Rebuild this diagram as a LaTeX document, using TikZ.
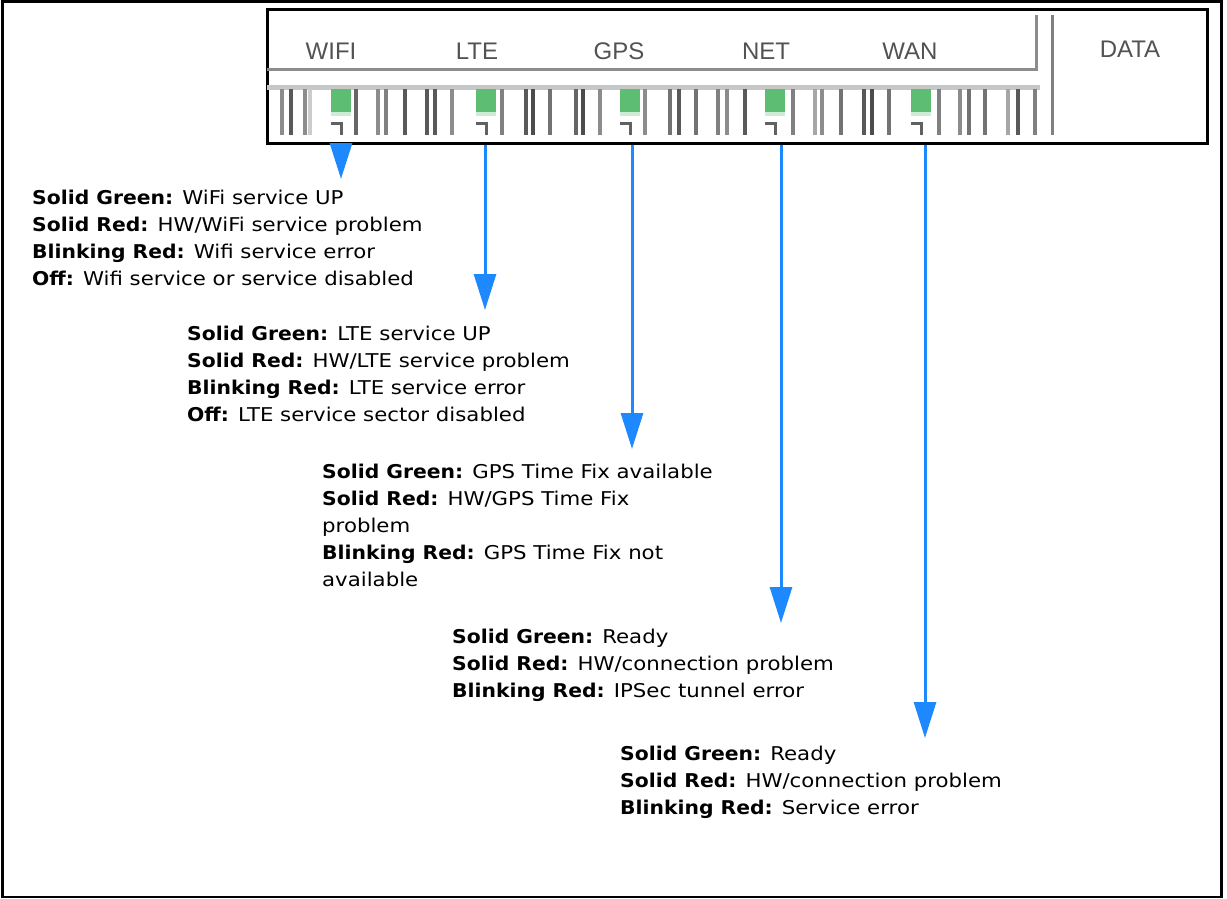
\documentclass[tikz,border=0pt]{standalone}
\usepackage{fontspec}
\setmainfont{DejaVu Sans}[FakeStretch=1.12, BoldFeatures={FakeStretch=1.07}]
\newfontfamily\panelfont{Liberation Sans}
\usetikzlibrary{arrows.meta}

\definecolor{ledblue}{RGB}{30,136,255}
\definecolor{ledgreen}{RGB}{93,190,115}

\begin{document}
\begin{tikzpicture}[x=1pt, y=-1pt,
		led/.style={rectangle, fill=ledgreen, minimum width=20pt, minimum height=23pt, inner sep=0pt},
		panel label/.style={font=\panelfont\fontsize{24}{24}\selectfont, text=black!68, inner sep=0pt},
		info/.style={anchor=north west, inner sep=0pt, align=left, font=\fontsize{19}{27}\selectfont},
		ledarrow/.style={draw=ledblue, line width=3pt, -{Triangle[length=36pt,width=22pt]}}]
		
		\useasboundingbox (0,0) rectangle (1227,899);
		\draw[line width=2.5pt] (2.5,1.5) rectangle (1221.5,897);
		
		% LED panel
		\node[draw, line width=3pt, minimum width=940.5pt, minimum height=133pt, anchor=north west] (panel) at (265.5,8.5) {};
		\fill[black!22] (267,85) rectangle (1040,90);
		\draw[black!45, line width=3pt] (267,70) -- (1036,70) -- (1036,15);
		\draw[black!50, line width=3pt] (1052,15) -- (1052,135);
		\foreach \x/\s in {282/45, 291/65, 305/45, 310/20, 356/60, 378/45, 386/50, 405/65, 427/65, 435/65,
			452/45, 502/50, 526/65, 533/70, 550/55, 576/60, 583/70, 600/45, 645/45, 670/55, 679/65,
			696/55, 718/50, 727/45, 745/65, 793/50, 815/35, 822/45, 841/55, 864/65, 872/70, 889/55,
			939/50, 960/45, 969/55, 985/55, 1008/35, 1018/65, 1035/50}
			\fill[black!\s] (\x-2,89) rectangle (\x+2,135);
		
		\node[led] (wifi) at (341,100.5) {};
		\node[led] (lte) at (486,100.5) {};
		\node[led] (gps) at (630,100.5) {};
		\node[led] (net) at (775,100.5) {};
		\node[led] (wan) at (921,100.5) {};
		\foreach \n in {wifi,lte,gps,net,wan} {
			\fill[ledgreen!30] (\n.south west) rectangle ([yshift=-4pt]\n.south east);
			\draw[black!62, line width=3pt] ([yshift=-11pt]\n.south west) -| ([xshift=11pt,yshift=-23pt]\n.south west);
		}
		
		\node[panel label] (wifilabel) at (331,51) {WIFI};
		\node[panel label] (ltelabel) at (477,51) {LTE};
		\node[panel label] (gpslabel) at (619,51) {GPS};
		\node[panel label] (netlabel) at (766,51) {NET};
		\node[panel label] (wanlabel) at (910,51) {WAN};
		\node[panel label] (datalabel) at (1130,49) {DATA};
		
		% descriptions
		\node[info] (wifiinfo) at (32,190) {\textbf{Solid Green:} WiFi service UP\\
			\textbf{Solid Red:} HW/WiFi service problem\\
			\textbf{Blinking Red:} Wifi service error\\
			\textbf{Off:} Wifi service or service disabled};
		\node[info] (lteinfo) at (187,326) {\textbf{Solid Green:} LTE service UP\\
			\textbf{Solid Red:} HW/LTE service problem\\
			\textbf{Blinking Red:} LTE service error\\
			\textbf{Off:} LTE service sector disabled};
		\node[info] (gpsinfo) at (322,464) {\textbf{Solid Green:} GPS Time Fix available\\
			\textbf{Solid Red:} HW/GPS Time Fix\\
			problem\\
			\textbf{Blinking Red:} GPS Time Fix not\\
			available};
		\node[info] (netinfo) at (452,629) {\textbf{Solid Green:} Ready\\
			\textbf{Solid Red:} HW/connection problem\\
			\textbf{Blinking Red:} IPSec tunnel error};
		\node[info] (waninfo) at (620,746) {\textbf{Solid Green:} Ready\\
			\textbf{Solid Red:} HW/connection problem\\
			\textbf{Blinking Red:} Service error};
		
		% arrows
		\coordinate (wifitip) at (341,179);
		\coordinate (ltetip) at (485,310);
		\coordinate (gpstip) at (632,449);
		\coordinate (nettip) at (781,623);
		\coordinate (wantip) at (925,738);
		\foreach \n in {wifi,lte,gps,net,wan}
			\draw[ledarrow] (panel.south -| \n tip) -- (\n tip);
\end{tikzpicture}
\end{document}
